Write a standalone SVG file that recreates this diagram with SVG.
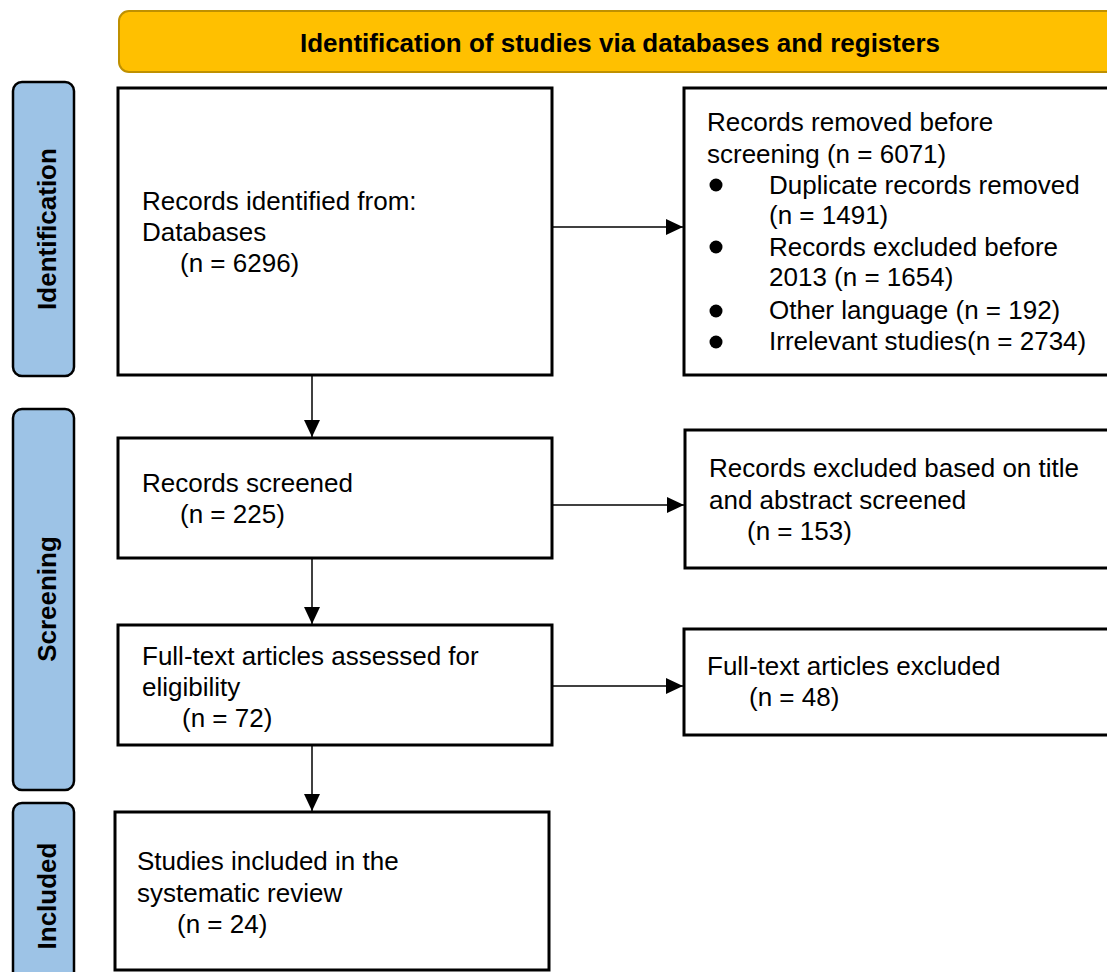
<svg xmlns="http://www.w3.org/2000/svg" width="1107" height="972" viewBox="0 0 1107 972">
<style>
text{font-family:"Liberation Sans",Arial,Helvetica,sans-serif;fill:#000}
.t{font-size:26px}
.h{font-size:26px;font-weight:bold}
.box{fill:#fff;stroke:#000;stroke-width:3}
.side{fill:#9DC3E6;stroke:#000;stroke-width:2.5}
.con{stroke:#000;stroke-width:1.5;fill:none}
</style>
<defs>
<marker id="ah" markerWidth="17" markerHeight="16" refX="17" refY="8" orient="auto" markerUnits="userSpaceOnUse">
<path d="M0,0 L17,8 L0,16 Z" fill="#000"/>
</marker>
</defs>
<rect width="1107" height="972" fill="#fff"/>
<g id="banner">
<rect x="119" y="11" width="1010" height="61" rx="10" fill="#FFC000" stroke="#BF9000" stroke-width="2"/>
<text class="h" x="620" y="52" text-anchor="middle">Identification of studies via databases and registers</text>
</g>
<g id="side-identification">
<rect class="side" x="13" y="82" width="61" height="294" rx="9"/>
<text class="h" transform="translate(56,229) rotate(-90)" text-anchor="middle">Identification</text>
</g>
<g id="side-screening">
<rect class="side" x="13" y="409" width="61" height="381" rx="9"/>
<text class="h" transform="translate(56,599) rotate(-90)" text-anchor="middle">Screening</text>
</g>
<g id="side-included">
<rect class="side" x="13" y="803" width="61" height="190" rx="9"/>
<text class="h" transform="translate(56,896) rotate(-90)" text-anchor="middle">Included</text>
</g>
<g id="records-identified">
<rect class="box" x="118" y="88" width="434" height="287"/>
<text class="t" x="142" y="210">Records identified from:</text>
<text class="t" x="142" y="241">Databases</text>
<text class="t" x="180" y="272">(n = 6296)</text>
</g>
<g id="records-removed">
<rect class="box" x="684" y="88" width="440" height="287"/>
<text class="t" x="707" y="131">Records removed before</text>
<text class="t" x="707" y="163">screening (n = 6071)</text>
<circle cx="716" cy="185" r="6.5"/>
<text class="t" x="769" y="194">Duplicate records removed</text>
<text class="t" x="769" y="224">(n = 1491)</text>
<circle cx="716" cy="247" r="6.5"/>
<text class="t" x="769" y="256">Records excluded before</text>
<text class="t" x="769" y="286">2013 (n = 1654)</text>
<circle cx="716" cy="311" r="6.5"/>
<text class="t" x="769" y="319">Other language (n = 192)</text>
<circle cx="716" cy="342" r="6.5"/>
<text class="t" x="769" y="350">Irrelevant studies(n = 2734)</text>
</g>
<g id="records-screened">
<rect class="box" x="118" y="438" width="434" height="120"/>
<text class="t" x="142" y="492">Records screened</text>
<text class="t" x="180" y="523">(n = 225)</text>
</g>
<g id="records-excluded">
<rect class="box" x="685" y="430" width="440" height="138"/>
<text class="t" x="709" y="477">Records excluded based on title</text>
<text class="t" x="709" y="509">and abstract screened</text>
<text class="t" x="747" y="540">(n = 153)</text>
</g>
<g id="fulltext-assessed">
<rect class="box" x="118" y="625" width="434" height="120"/>
<text class="t" x="142" y="665">Full-text articles assessed for</text>
<text class="t" x="142" y="696">eligibility</text>
<text class="t" x="182" y="727">(n = 72)</text>
</g>
<g id="fulltext-excluded">
<rect class="box" x="684" y="629" width="440" height="106"/>
<text class="t" x="707" y="675">Full-text articles excluded</text>
<text class="t" x="749" y="706">(n = 48)</text>
</g>
<g id="studies-included">
<rect class="box" x="115" y="812" width="434" height="158"/>
<text class="t" x="137" y="870">Studies included in the</text>
<text class="t" x="137" y="902">systematic review</text>
<text class="t" x="177" y="933">(n = 24)</text>
</g>
<g id="connectors">
<line class="con" x1="312" y1="375" x2="312" y2="437" marker-end="url(#ah)"/>
<line class="con" x1="312" y1="558" x2="312" y2="624" marker-end="url(#ah)"/>
<line class="con" x1="312" y1="745" x2="312" y2="811" marker-end="url(#ah)"/>
<line class="con" x1="552" y1="227" x2="683" y2="227" marker-end="url(#ah)"/>
<line class="con" x1="552" y1="505" x2="684" y2="505" marker-end="url(#ah)"/>
<line class="con" x1="552" y1="686" x2="683" y2="686" marker-end="url(#ah)"/>
</g>
</svg>
